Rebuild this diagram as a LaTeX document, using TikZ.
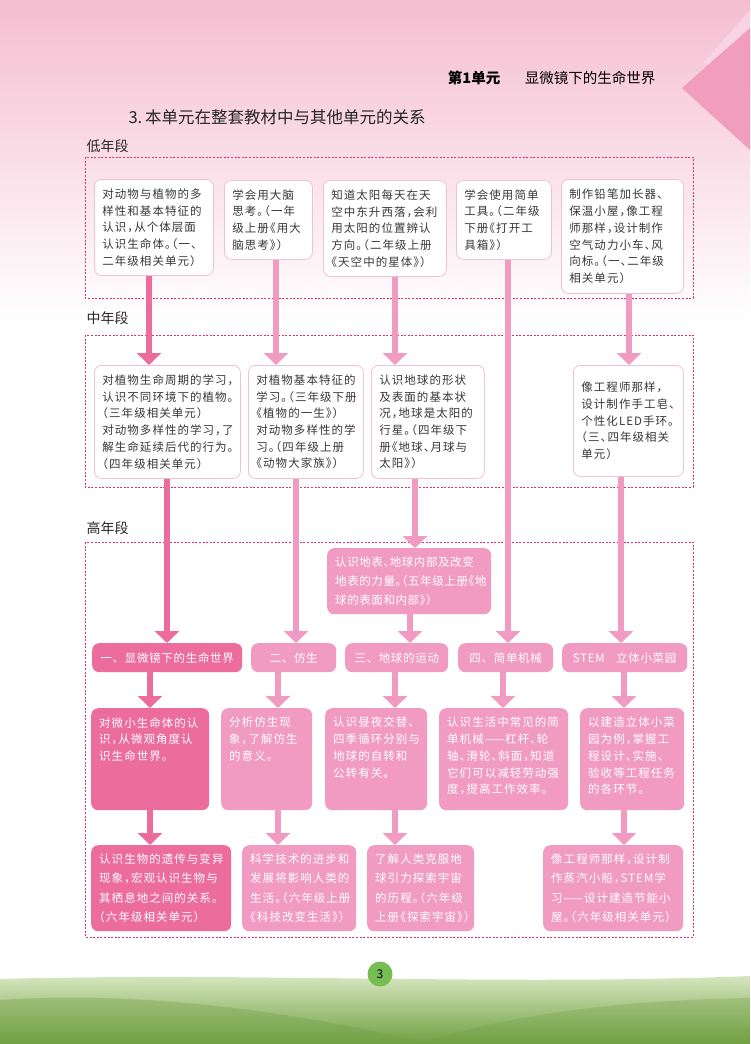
\documentclass[tikz,border=0pt]{standalone}
\usepackage{fontspec}
\setmainfont{Noto Sans CJK SC}
\newfontfamily\boxfont{Noto Sans CJK SC}[RawFeature=+halt, LetterSpace=9]
\newfontfamily\tightfont{Noto Sans CJK SC}[RawFeature=+halt, LetterSpace=5]
\newfontfamily\tagfont{Noto Sans CJK SC}[LetterSpace=6]
\usetikzlibrary{arrows.meta,shapes,positioning}

\definecolor{pinkdark}{RGB}{236,108,155}
\definecolor{pinklight}{RGB}{242,155,194}
\definecolor{pinkline}{RGB}{240,192,212}
\definecolor{dashred}{RGB}{228,45,112}
\definecolor{textgray}{RGB}{55,55,55}
\definecolor{pagetop}{RGB}{245,190,208}
\definecolor{cornerpink}{RGB}{240,158,188}
\definecolor{grasslight}{RGB}{196,220,160}
\definecolor{grassdark}{RGB}{112,160,66}
\definecolor{badge}{RGB}{118,190,84}

\newcommand{\topcell}[3]{\begin{minipage}[t][#2][t]{#1}\raggedright #3\end{minipage}}

\begin{document}
\begin{tikzpicture}[x=1pt, y=-1pt,
    wbox/.style={rectangle, draw=pinkline, line width=0.8pt, fill=white, rounded corners=7pt, anchor=north west, align=left, inner xsep=8pt, inner ysep=0pt, text=textgray, font=\boxfont\fontsize{11.5}{16.7}\selectfont},
    pbox/.style={rectangle, fill=pinklight, rounded corners=7pt, anchor=north west, align=left, inner xsep=8pt, inner ysep=0pt, text=white, font=\boxfont\fontsize{11.5}{19.2}\selectfont},
    topbox/.style={rectangle, fill=pinklight, rounded corners=7pt, anchor=north west, inner xsep=8pt, inner ysep=9pt, text=white, font=\boxfont\fontsize{11.5}{16.7}\selectfont},
    tag/.style={rectangle, fill=pinklight, rounded corners=7pt, anchor=north west, inner sep=0pt, minimum height=29pt, text=white, font=\tagfont\fontsize{11.5}{14}\selectfont},
    zone/.style={draw=dashred, line width=0.8pt, dash pattern=on 2pt off 1.6pt},
    sect/.style={anchor=west, text=black!85, font=\fontsize{14}{16}\selectfont},
    arrl/.style={line width=6pt, draw=pinklight, -{Triangle[width=24pt,length=12pt]}},
    arrd/.style={arrl, draw=pinkdark}
]
\useasboundingbox (0,0) rectangle (750,1044);

% page background
\shade[top color=pagetop, bottom color=white] (0,0) rectangle (750,320);
\fill[cornerpink!45] (704,62) -- (750,10) -- (750,128) -- cycle;
\fill[cornerpink] (682,88) -- (750,28) -- (750,150) -- cycle;
\shade[top color=grasslight!60!white, bottom color=grassdark] (0,979) .. controls (250,972) and (500,986) .. (750,976) -- (750,1044) -- (0,1044) -- cycle;
\fill[grassdark, opacity=0.35] (0,1000) .. controls (140,990) and (300,1012) .. (430,1044) -- (0,1044) -- cycle;
\fill[grassdark, opacity=0.3] (420,1044) .. controls (520,1010) and (640,1000) .. (750,998) -- (750,1044) -- cycle;

% headings
\node[anchor=east, font=\fontsize{14.5}{16}\selectfont] (unit) at (659,78) {\textbf{第1单元}\hspace{1.7em}显微镜下的生命世界};
\node[anchor=west, text=black!85, font=\fontsize{16.5}{18}\selectfont] (title) at (125,117) {3.\,本单元在整套教材中与其他单元的关系};
\node[sect] (lowlab) at (83,146) {低年段};
\node[sect] (midlab) at (83,318) {中年段};
\node[sect] (highlab) at (83,528) {高年段};

% dashed zones
\draw[zone] (85,157) rectangle (693,298);
\draw[zone] (85,335) rectangle (693,487);
\draw[zone] (85,542) rectangle (693,937);

% low grades
\node[wbox, text width=103pt, minimum height=96pt] (low1) at (94,179) {对动物与植物的多\\样性和基本特征的\\认识，从个体层面\\认识生命体。（一、\\二年级相关单元）};
\node[wbox, text width=72pt, minimum height=79pt] (low2) at (224,180) {学会用大脑\\思考。（一年\\级上册《用大\\脑思考》）};
\node[wbox, text width=107pt, minimum height=96pt] (low3) at (323,180) {知道太阳每天在天\\空中东升西落，会利\\用太阳的位置辨认\\方向。（二年级上册\\《天空中的星体》）};
\node[wbox, text width=79pt, minimum height=79pt] (low4) at (456,180) {学会使用简单\\工具。（二年级\\下册《打开工\\具箱》）};
\node[wbox, text width=106pt, minimum height=114pt] (low5) at (561,179) {制作铅笔加长器、\\保温小屋，像工程\\师那样，设计制作\\空气动力小车、风\\向标。（一、二年级\\相关单元）};

% middle grades
\node[wbox, text width=130pt, minimum height=113pt] (mid1) at (94,365) {对植物生命周期的学习，\\认识不同环境下的植物。\\（三年级相关单元）\\对动物多样性的学习，了\\解生命延续后代的行为。\\（四年级相关单元）};
\node[wbox, text width=99pt, minimum height=113pt] (mid2) at (248,365) {对植物基本特征的\\学习。（三年级下册\\《植物的一生》）\\对动物多样性的学\\习。（四年级上册\\《动物大家族》）};
\node[wbox, text width=97pt, minimum height=113pt] (mid3) at (371,365) {认识地球的形状\\及表面的基本状\\况，地球是太阳的\\行星。（四年级下\\册《地球、月球与\\太阳》）};
\node[wbox, text width=94pt, minimum height=111pt] (mid4) at (573,365) {像工程师那样，\\设计制作手工皂、\\个性化LED手环。\\（三、四年级相关\\单元）};

% high grades
\node[pbox, text width=148pt, minimum height=66pt, font=\tightfont\fontsize{11.5}{19.2}\selectfont] (earth) at (327,548) {认识地表、地球内部及改变\\地表的力量。（五年级上册《地\\球的表面和内部》）};

\node[tag, fill=pinkdark, minimum width=150pt] (tag1) at (92,643) {一、显微镜下的生命世界};
\node[tag, minimum width=85pt] (tag2) at (251,643) {二、仿生};
\node[tag, minimum width=103pt] (tag3) at (345,643) {三、地球的运动};
\node[tag, minimum width=95pt] (tag4) at (458,643) {四、简单机械};
\node[tag, minimum width=125pt] (tag5) at (562,643) {STEM\quad 立体小菜园};

\node[topbox, fill=pinkdark] (b1) at (91,708) {\topcell{102pt}{84pt}{对微小生命体的认\\识，从微观角度认\\识生命世界。}};
\node[topbox] (b2) at (221,708) {\topcell{75pt}{84pt}{分析仿生现\\象，了解仿生\\的意义。}};
\node[topbox] (b3) at (325,708) {\topcell{86pt}{84pt}{认识昼夜交替、\\四季循环分别与\\地球的自转和\\公转有关。}};
\node[topbox] (b4) at (439,708) {\topcell{113pt}{84pt}{认识生活中常见的简\\单机械——杠杆、轮\\轴、滑轮、斜面，知道\\它们可以减轻劳动强\\度，提高工作效率。}};
\node[topbox] (b5) at (580,708) {\topcell{88pt}{84pt}{以建造立体小菜\\园为例，掌握工\\程设计、实施、\\验收等工程任务\\的各环节。}};

\node[pbox, fill=pinkdark, text width=124pt, minimum height=86pt] (c1) at (91,845) {认识生物的遗传与变异\\现象，宏观认识生物与\\其栖息地之间的关系。\\（六年级相关单元）};
\node[pbox, text width=98pt, minimum height=86pt] (c2) at (242,845) {科学技术的进步和\\发展将影响人类的\\生活。（六年级上册\\《科技改变生活》）};
\node[pbox, text width=91pt, minimum height=86pt] (c3) at (367,845) {了解人类克服地\\球引力探索宇宙\\的历程。（六年级\\上册《探索宇宙》）};
\node[pbox, text width=124pt, minimum height=86pt] (c5) at (543,845) {像工程师那样，设计制\\作蒸汽小船，STEM学\\习——设计建造节能小\\屋。（六年级相关单元）};

% connectors
\draw[arrd] (low1.south -| 149,0) -- (mid1.north -| 149,0);
\draw[arrd] (mid1.south -| 167,0) -- (tag1.north -| 167,0);
\draw[arrd] (tag1.south -| 150,0) -- (b1.north -| 150,0);
\draw[arrd] (b1.south -| 150,0) -- (c1.north -| 150,0);
\draw[arrl] (low2.south -| 276,0) -- (mid2.north -| 276,0);
\draw[arrl] (mid2.south -| 296,0) -- (tag2.north -| 296,0);
\draw[arrl] (tag2.south -| 278,0) -- (b2.north -| 278,0);
\draw[arrl] (b2.south -| 278,0) -- (c2.north -| 278,0);
\draw[arrl] (low3.south -| 395,0) -- (mid3.north -| 395,0);
\draw[arrl] (mid3.south -| 415,0) -- (earth.north -| 415,0);
\draw[arrl] (earth.south -| 410,0) -- (tag3.north -| 410,0);
\draw[arrl] (tag3.south -| 395,0) -- (b3.north -| 395,0);
\draw[arrl] (b3.south -| 395,0) -- (c3.north -| 395,0);
\draw[arrl] (low4.south -| 508,0) -- (tag4.north -| 508,0);
\draw[arrl] (tag4.south -| 503,0) -- (b4.north -| 503,0);
\draw[arrl] (low5.south -| 629,0) -- (mid4.north -| 629,0);
\draw[arrl] (mid4.south -| 621,0) -- (tag5.north -| 621,0);
\draw[arrl] (tag5.south -| 624,0) -- (b5.north -| 624,0);
\draw[arrl] (b5.south -| 624,0) -- (c5.north -| 624,0);

% page number
\node[circle, fill=badge, minimum size=25pt, inner sep=0pt, font=\fontsize{12}{12}\selectfont] (pageno) at (380,974) {3};
\end{tikzpicture}
\end{document}
